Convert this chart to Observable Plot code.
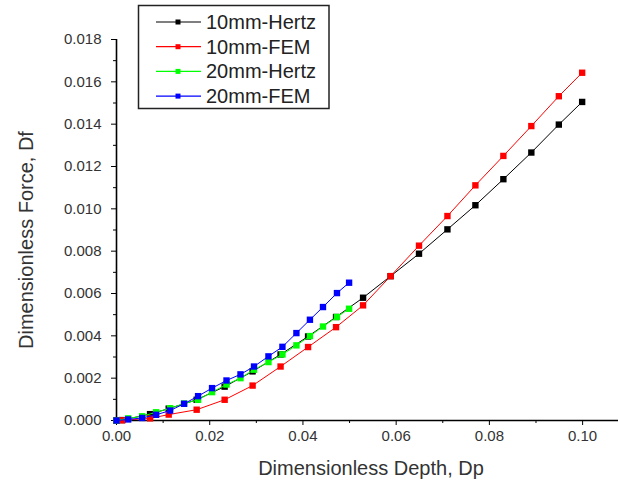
<!DOCTYPE html>
<html>
<head>
<meta charset="utf-8">
<script src="https://cdn.jsdelivr.net/npm/d3@7"></script>
<script src="https://cdn.jsdelivr.net/npm/@observablehq/plot@0.6"></script>
<style>
  html, body { margin: 0; padding: 0; background: #fff; }
  #chart { width: 619px; height: 488px; }
</style>
</head>
<body>
<div id="chart"></div>
<script>
// ---- data ----
const seriesNames = ["10mm-Hertz", "10mm-FEM", "20mm-Hertz", "20mm-FEM"];
const seriesColors = ["#000000", "#ff0000", "#00ff00", "#0000ff"];

const depth10 = [0, 0.0012, 0.0072, 0.0112, 0.0172, 0.0232, 0.0292, 0.0352, 0.0411, 0.0471, 0.0529, 0.0588, 0.0649, 0.0710, 0.0770, 0.0830, 0.0890, 0.0949, 0.0999];
const hertz10 = [0, 0.00002, 0.0003, 0.00056, 0.00098, 0.0016, 0.00232, 0.00312, 0.00397, 0.00489, 0.0058, 0.00682, 0.00788, 0.00903, 0.01017, 0.0114, 0.01266, 0.01398, 0.01505];
const fem10   = [0, 0.00001, 0.0001, 0.00028, 0.00051, 0.00098, 0.00165, 0.00255, 0.00347, 0.00441, 0.00544, 0.00682, 0.00826, 0.00966, 0.01111, 0.0125, 0.01391, 0.01532, 0.01643];

const depth20 = [0, 0.0025, 0.0055, 0.0085, 0.0115, 0.0145, 0.0175, 0.0205, 0.0236, 0.0266, 0.0295, 0.0326, 0.0356, 0.0386, 0.0415, 0.0443, 0.0473, 0.0499];
const hertz20 = [0, 0.0001, 0.0002, 0.00039, 0.00058, 0.0008, 0.00098, 0.00134, 0.0017, 0.002, 0.0024, 0.00276, 0.00312, 0.00355, 0.00399, 0.00444, 0.00489, 0.00528];
const fem20   = [0, 0.00005, 0.00012, 0.00027, 0.00047, 0.00079, 0.00115, 0.00153, 0.00189, 0.00218, 0.00255, 0.00303, 0.00348, 0.00413, 0.00476, 0.00536, 0.00602, 0.00651];

const xTicks = [0, 0.02, 0.04, 0.06, 0.08, 0.10];
const yTicks = [0, 0.002, 0.004, 0.006, 0.008, 0.010, 0.012, 0.014, 0.016, 0.018];
const xMinorTicks = [0.01, 0.03, 0.05, 0.07, 0.09];
const yMinorTicks = [0.001, 0.003, 0.005, 0.007, 0.009, 0.011, 0.013, 0.015, 0.017];

const xTitle = "Dimensionless Depth, Dp";
const yTitle = "Dimensionless Force, Df";

// ---- build table ----
const table = [];
const pairs = [[depth10, hertz10], [depth10, fem10], [depth20, hertz20], [depth20, fem20]];
pairs.forEach(([xs, ys], i) => xs.forEach((x, j) => table.push({series: seriesNames[i], x, y: ys[j]})));

const font = "'Liberation Sans', Arial, sans-serif";

const marks = [
  Plot.axisX({ticks: xTicks, tickSize: 5, tickPadding: 5, tickFormat: d3.format(".2f"), fill: "#333", stroke: "#000", fontSize: 15, label: null}),
  Plot.axisX({ticks: xMinorTicks, tickSize: 3, tickFormat: () => "", stroke: "#000", label: null}),
  Plot.axisY({ticks: yTicks, tickSize: 5, tickPadding: 10, tickFormat: d3.format(".3f"), fill: "#333", stroke: "#000", fontSize: 15, label: null}),
  Plot.axisY({ticks: yMinorTicks, tickSize: 3, tickFormat: () => "", stroke: "#000", label: null}),
  Plot.ruleY([0], {stroke: "#000", strokeWidth: 1.6}),
  Plot.ruleX([0], {stroke: "#000", strokeWidth: 1.6})
];
seriesNames.forEach((name, i) => {
  const d = table.filter(r => r.series === name);
  marks.push(Plot.line(d, {x: "x", y: "y", stroke: seriesColors[i], strokeWidth: 1}));
  marks.push(Plot.dot(d, {x: "x", y: "y", symbol: "square", r: 3.6, fill: seriesColors[i], stroke: "none"}));
});

const svg = Plot.plot({
  width: 619,
  height: 488,
  marginLeft: 116,
  marginRight: 1,
  marginTop: 39,
  marginBottom: 68,
  style: {fontFamily: font, background: "#fff", overflow: "visible"},
  x: {domain: [0, 0.1077], axis: null},
  y: {domain: [0, 0.018], axis: null},
  marks
});

const s = d3.select(svg);
// axis titles
s.append("text").attr("x", 371).attr("y", 475).attr("text-anchor", "middle")
  .attr("font-family", font).attr("font-size", 20).attr("fill", "#333").text(xTitle);
s.append("text").attr("transform", "translate(33,240) rotate(-90)").attr("text-anchor", "middle")
  .attr("font-family", font).attr("font-size", 20).attr("fill", "#333").text(yTitle);

// legend
const lg = s.append("g");
lg.append("rect").attr("x", 138.5).attr("y", 5.5).attr("width", 190.5).attr("height", 103)
  .attr("fill", "#fff").attr("stroke", "#222").attr("stroke-width", 1.5);
seriesNames.forEach((name, i) => {
  const cy = 22 + i * 24.7;
  lg.append("line").attr("x1", 156).attr("x2", 201).attr("y1", cy).attr("y2", cy)
    .attr("stroke", seriesColors[i]).attr("stroke-width", 1.2);
  lg.append("rect").attr("x", 175.5).attr("y", cy - 2.5).attr("width", 5).attr("height", 5).attr("fill", seriesColors[i]);
  lg.append("text").attr("x", 206).attr("y", cy + 7).attr("text-anchor", "start")
    .attr("font-family", font).attr("font-size", 20).attr("fill", "#222").text(name);
});

document.getElementById("chart").appendChild(svg);
</script>
</body>
</html>
